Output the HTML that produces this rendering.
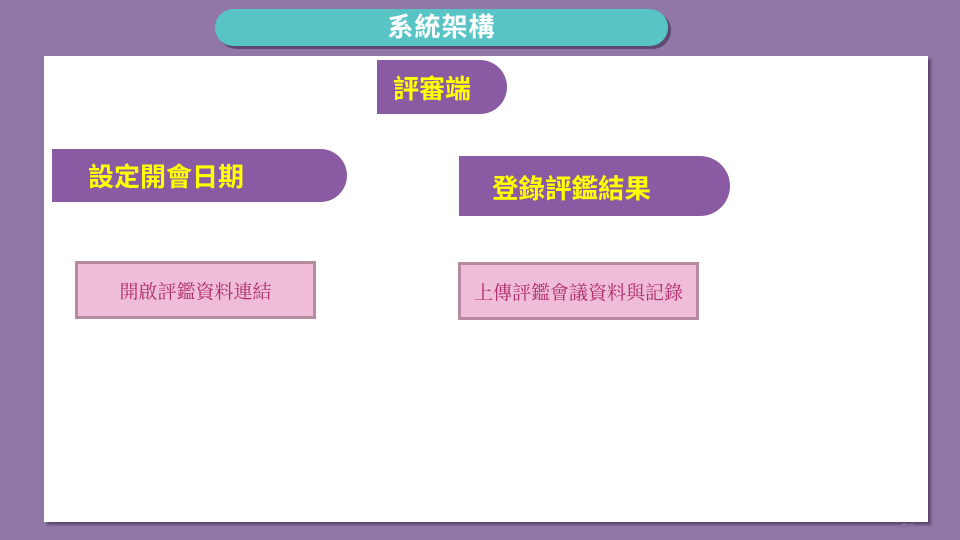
<!DOCTYPE html>
<html><head><meta charset="utf-8"><style>
body{margin:0;width:960px;height:540px;background:#9077a7;position:relative;overflow:hidden;font-family:"Liberation Sans","Noto Sans CJK TC",sans-serif}
.a{position:absolute;box-sizing:border-box}
.panel{left:44px;top:56px;width:884px;height:466px;background:#fff;box-shadow:3px 3px 2px #5e4a70}
.title{left:215px;top:9px;width:453px;height:37px;background:#58c4c6;border-radius:19px;box-shadow:3px 3px 0 #5e4a70;color:#fff;font-size:26px;font-weight:bold;text-align:center;line-height:37px;letter-spacing:1px}
.tab{background:#8a5ba3;color:#ffff00;font-weight:bold;display:flex;align-items:center}
.box{background:#efbdd8;border:3px solid #b68a9f;color:#b02c6e;font-family:"Liberation Serif","Noto Serif CJK SC",serif;font-size:19px;display:flex;align-items:center;justify-content:center}
</style></head><body>
<div class="a panel"></div>
<div class="a title">系統架構</div>
<div class="a tab" style="left:377px;top:60px;width:130px;height:54px;border-radius:0 27px 27px 0;font-size:26px;padding-left:16px">評審端</div>
<div class="a tab" style="left:52px;top:149px;width:295px;height:53px;border-radius:0 27px 27px 0;font-size:26px;padding-left:36px">設定開會日期</div>
<div class="a tab" style="left:459px;top:156px;width:271px;height:60px;border-radius:0 30px 30px 0;font-size:26.5px;padding-left:33px">登錄評鑑結果</div>
<div class="a box" style="left:75px;top:261px;width:241px;height:58px">開啟評鑑資料連結</div>
<div class="a box" style="left:458px;top:262px;width:241px;height:58px">上傳評鑑會議資料與記錄</div>
<div class="a" style="left:900px;top:512px;color:#fff;font-size:14px;z-index:-1">10</div>
</body></html>
